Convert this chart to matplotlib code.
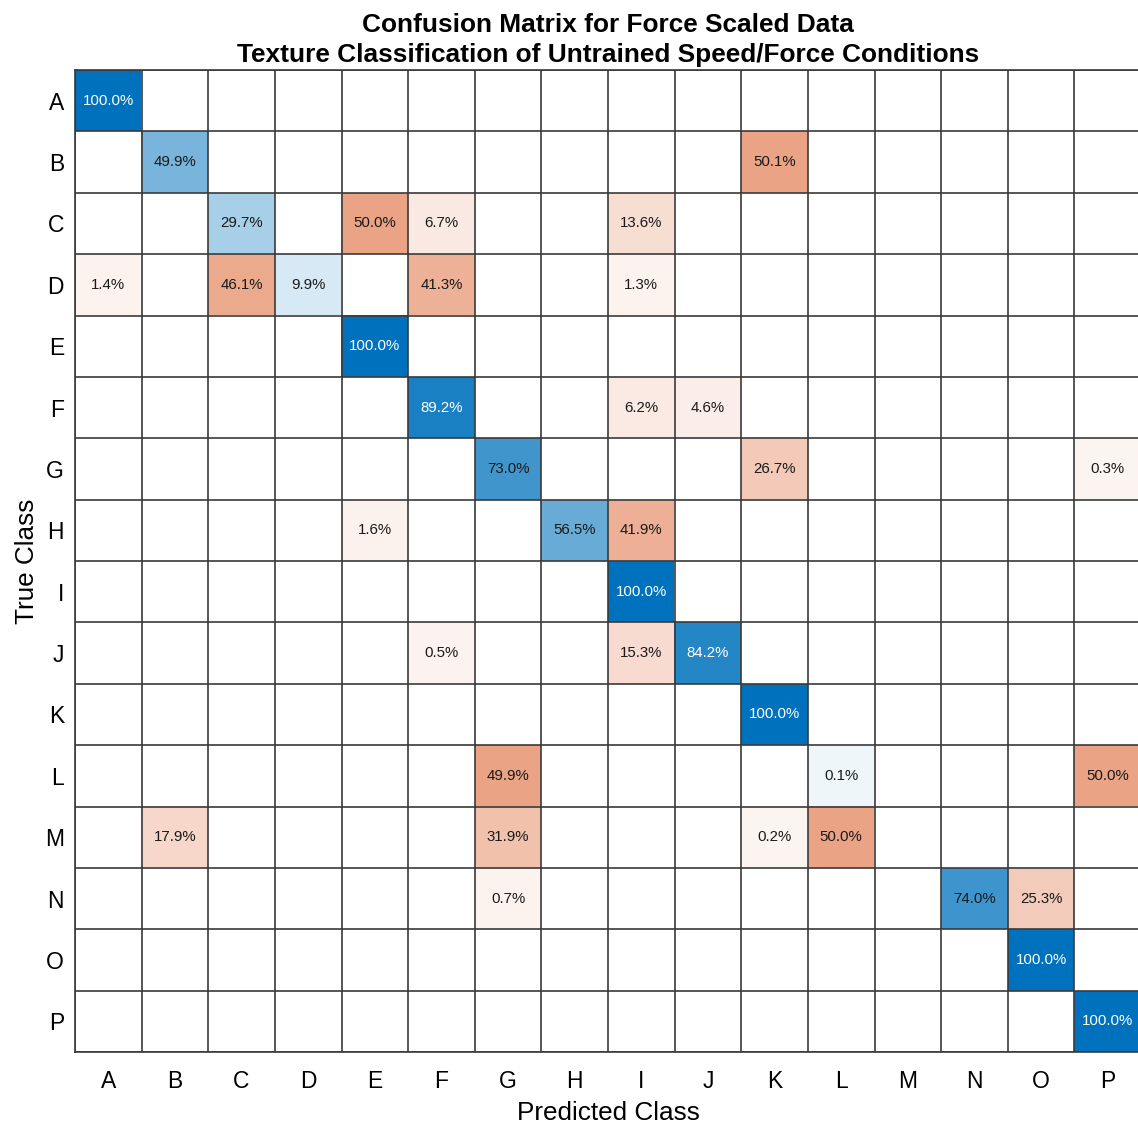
import numpy as np
import matplotlib
matplotlib.use("Agg")
import matplotlib.pyplot as plt

plt.rcParams["font.family"] = ["Liberation Sans", "DejaVu Sans"]

classes = list("ABCDEFGHIJKLMNOP")

# row-normalised percentages: (true class, predicted class, value)
true_idx = ["A", "B", "B", "C", "C", "C", "C", "D", "D", "D", "D", "D",
            "E", "F", "F", "F", "G", "G", "G", "H", "H", "H", "I",
            "J", "J", "J", "K", "L", "L", "L", "M", "M", "M", "M",
            "N", "N", "N", "O", "P"]
pred_idx = ["A", "B", "K", "C", "E", "F", "I", "A", "C", "D", "F", "I",
            "E", "F", "I", "J", "G", "K", "P", "E", "H", "I", "I",
            "F", "I", "J", "K", "G", "L", "P", "B", "G", "K", "L",
            "G", "N", "O", "O", "P"]
percent = [100.0, 49.9, 50.1, 29.7, 50.0, 6.7, 13.6, 1.4, 46.1, 9.9, 41.3, 1.3,
           100.0, 89.2, 6.2, 4.6, 73.0, 26.7, 0.3, 1.6, 56.5, 41.9, 100.0,
           0.5, 15.3, 84.2, 100.0, 49.9, 0.1, 50.0, 17.9, 31.9, 0.2, 50.0,
           0.7, 74.0, 25.3, 100.0, 100.0]

n = len(classes)
mat = np.zeros((n, n))
for t, p, v in zip(true_idx, pred_idx, percent):
    mat[classes.index(t), classes.index(p)] = v

diag_color = np.array([0, 114, 189]) / 255
off_color = np.array([217, 83, 25]) / 255

# blend towards white, with a small floor so tiny values still show
rgb = np.ones((n, n, 3))
alpha = np.where(mat > 0, 0.06 + 0.94 * mat / 100, 0)
for i in range(n):
    for j in range(n):
        base = diag_color if i == j else off_color
        rgb[i, j] = 1 - alpha[i, j] * (1 - base)

fig = plt.figure(figsize=(11.38, 11.25), dpi=100)
ax = fig.add_axes([75 / 1138, 73 / 1125, 1066 / 1138, 982 / 1125])
ax.imshow(rgb, aspect="auto", interpolation="nearest")

for i in range(n):
    for j in range(n):
        if mat[i, j] > 0:
            txt_color = "white" if alpha[i, j] > 0.8 else "#1a1a1a"
            ax.text(j, i, f"{mat[i, j]:.1f}%", ha="center", va="center",
                    fontsize=10.8, color=txt_color)

grid_color = "#3a3a3a"
for k in range(n + 1):
    ax.axhline(k - 0.5, color=grid_color, lw=1.2)
    ax.axvline(k - 0.5, color=grid_color, lw=1.2)
for s in ax.spines.values():
    s.set_color(grid_color)
    s.set_linewidth(1.2)

ax.set_xlim(-0.5, n - 0.5)
ax.set_ylim(n - 0.5, -0.5)
ax.set_xticks(range(n))
ax.set_yticks(range(n))
ax.set_xticklabels(classes, fontsize=16.5)
ax.set_yticklabels(classes, fontsize=16.5)
ax.tick_params(axis="x", length=0, pad=13)
ax.tick_params(axis="y", length=0, pad=8)
ax.set_xlabel("Predicted Class", fontsize=18.8, labelpad=6)
ax.set_ylabel("True Class", fontsize=18.8, labelpad=4)
ax.set_title("Confusion Matrix for Force Scaled Data\n"
             "Texture Classification of Untrained Speed/Force Conditions",
             fontsize=18.9, fontweight="bold", pad=6, linespacing=1.3)

fig.savefig("out.png", dpi=100)
